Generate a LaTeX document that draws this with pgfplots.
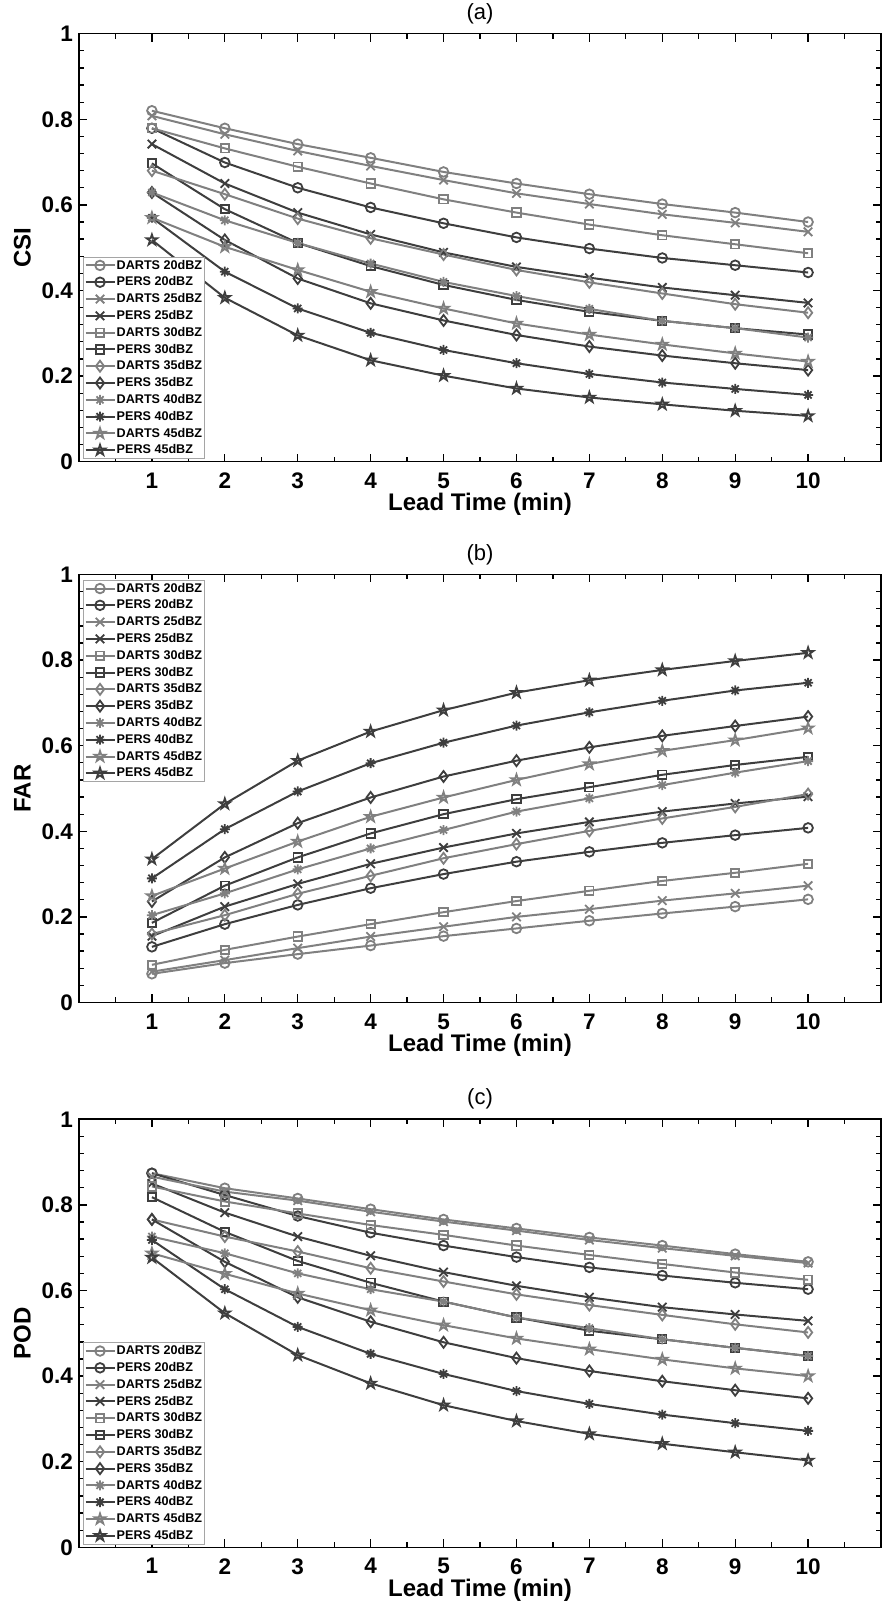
\documentclass[border=0pt]{standalone}
\usepackage{fontspec}
\setmainfont{Liberation Sans}
\usepackage{pgfplots}
\pgfplotsset{compat=1.18}
\definecolor{dcol}{RGB}{128,128,128}
\definecolor{pcol}{RGB}{62,62,62}
\definecolor{lgray}{RGB}{165,165,165}

\pgfdeclareplotmark{ast8}{%
  \pgfpathmoveto{\pgfqpoint{-\pgfplotmarksize}{0pt}}\pgfpathlineto{\pgfqpoint{\pgfplotmarksize}{0pt}}%
  \pgfpathmoveto{\pgfqpoint{0pt}{-\pgfplotmarksize}}\pgfpathlineto{\pgfqpoint{0pt}{\pgfplotmarksize}}%
  \pgfpathmoveto{\pgfqpoint{-.7071\pgfplotmarksize}{-.7071\pgfplotmarksize}}\pgfpathlineto{\pgfqpoint{.7071\pgfplotmarksize}{.7071\pgfplotmarksize}}%
  \pgfpathmoveto{\pgfqpoint{-.7071\pgfplotmarksize}{.7071\pgfplotmarksize}}\pgfpathlineto{\pgfqpoint{.7071\pgfplotmarksize}{-.7071\pgfplotmarksize}}%
  \pgfusepathqstroke}

\pgfdeclareplotmark{pentagram}{%
  \pgfpathmoveto{\pgfqpointpolar{90}{\pgfplotmarksize}}%
  \pgfpathlineto{\pgfqpointpolar{126}{0.382\pgfplotmarksize}}%
  \pgfpathlineto{\pgfqpointpolar{162}{\pgfplotmarksize}}%
  \pgfpathlineto{\pgfqpointpolar{198}{0.382\pgfplotmarksize}}%
  \pgfpathlineto{\pgfqpointpolar{234}{\pgfplotmarksize}}%
  \pgfpathlineto{\pgfqpointpolar{270}{0.382\pgfplotmarksize}}%
  \pgfpathlineto{\pgfqpointpolar{306}{\pgfplotmarksize}}%
  \pgfpathlineto{\pgfqpointpolar{342}{0.382\pgfplotmarksize}}%
  \pgfpathlineto{\pgfqpointpolar{18}{\pgfplotmarksize}}%
  \pgfpathlineto{\pgfqpointpolar{54}{0.382\pgfplotmarksize}}%
  \pgfpathclose\pgfusepathqstroke}

\pgfplotscreateplotcyclelist{mylist}{%
  {dcol,mark=o,mark size=4.8pt},
  {pcol,mark=o,mark size=4.8pt},
  {dcol,mark=x,mark size=6pt},
  {pcol,mark=x,mark size=6pt},
  {dcol,mark=square,mark size=4.2pt},
  {pcol,mark=square,mark size=4.2pt},
  {dcol,mark=diamond,mark size=5.5pt},
  {pcol,mark=diamond,mark size=5.5pt},
  {dcol,mark=ast8,mark size=5pt},
  {pcol,mark=ast8,mark size=5pt},
  {dcol,mark=pentagram,mark size=5.5pt},
  {pcol,mark=pentagram,mark size=5.5pt}}

\pgfplotsset{
  panel/.style={
    scale only axis, width=802pt, height=428pt,
    xmin=0, xmax=11, ymin=0, ymax=1,
    xtick={1,...,10}, minor xtick={0.5,1.5,...,10.5},
    ytick={0,0.2,0.4,0.6,0.8,1}, yticklabels={0,0.2,0.4,0.6,0.8,1},
    minor y tick num=4,
    tick align=inside, major tick length=8pt, minor tick length=5pt,
    every tick/.style={black, line width=1.3pt},
    axis line style={line width=1.6pt},
    /pgf/number format/assume math mode=true,
    tick label style={font=\bfseries\fontsize{22.5}{24}\selectfont},
    xticklabel style={inner sep=0pt, anchor=north, yshift=-11pt},
    yticklabel style={inner sep=0pt, anchor=east, xshift=-6pt},
    xlabel={Lead Time (min)},
    xlabel style={font=\bfseries\fontsize{24}{26}\selectfont, at={(axis description cs:0.5,-0.0736)}, anchor=north, inner sep=0pt},
    ylabel style={font=\bfseries\fontsize{24}{26}\selectfont, at={(axis description cs:-0.0705,0.5)}, anchor=center, inner sep=0pt},
    title style={font=\fontsize{22}{24}\selectfont, at={(axis description cs:0.5,1.0327)}, anchor=center, inner sep=0pt},
    cycle list name=mylist,
    every axis plot/.append style={line width=2pt, mark options={solid, line width=1.8pt}},
    legend cell align=left,
    legend image code/.code={\draw[mark repeat=2,mark phase=2,#1] plot coordinates {(0pt,0pt) (14.5pt,0pt) (29pt,0pt)};},
    legend style={draw=lgray, line width=1pt, fill=white, text=black,
      font=\bfseries\fontsize{12.6}{14}\selectfont, inner sep=1pt, row sep=2pt,
      nodes={inner sep=1.2pt, text height=9.8pt, text depth=2.6pt}},
  }}

\begin{document}
\begin{tikzpicture}[x=1pt,y=1pt]
\useasboundingbox (0,0) rectangle (882,1604);

% ---------------- (a) CSI ----------------
\begin{axis}[panel, at={(79pt,1142.3pt)}, anchor=south west, title={(a)}, ylabel={CSI},
  legend style={at={(axis description cs:0.005,0.006)}, anchor=south west}]
\addplot coordinates {(1,0.820)(2,0.779)(3,0.742)(4,0.710)(5,0.677)(6,0.650)(7,0.625)(8,0.602)(9,0.582)(10,0.560)};
\addplot coordinates {(1,0.779)(2,0.699)(3,0.640)(4,0.594)(5,0.557)(6,0.524)(7,0.498)(8,0.476)(9,0.459)(10,0.442)};
\addplot coordinates {(1,0.808)(2,0.765)(3,0.726)(4,0.691)(5,0.658)(6,0.627)(7,0.602)(8,0.578)(9,0.558)(10,0.537)};
\addplot coordinates {(1,0.742)(2,0.650)(3,0.582)(4,0.531)(5,0.489)(6,0.455)(7,0.430)(8,0.407)(9,0.389)(10,0.371)};
\addplot coordinates {(1,0.779)(2,0.732)(3,0.689)(4,0.650)(5,0.613)(6,0.582)(7,0.554)(8,0.529)(9,0.508)(10,0.487)};
\addplot coordinates {(1,0.697)(2,0.590)(3,0.511)(4,0.457)(5,0.413)(6,0.378)(7,0.350)(8,0.329)(9,0.312)(10,0.297)};
\addplot coordinates {(1,0.680)(2,0.625)(3,0.568)(4,0.522)(5,0.484)(6,0.448)(7,0.419)(8,0.393)(9,0.368)(10,0.348)};
\addplot coordinates {(1,0.629)(2,0.518)(3,0.428)(4,0.370)(5,0.330)(6,0.296)(7,0.269)(8,0.248)(9,0.230)(10,0.214)};
\addplot coordinates {(1,0.629)(2,0.564)(3,0.511)(4,0.463)(5,0.420)(6,0.387)(7,0.357)(8,0.329)(9,0.312)(10,0.290)};
\addplot coordinates {(1,0.570)(2,0.444)(3,0.358)(4,0.301)(5,0.261)(6,0.230)(7,0.205)(8,0.185)(9,0.170)(10,0.156)};
\addplot coordinates {(1,0.570)(2,0.502)(3,0.448)(4,0.397)(5,0.358)(6,0.323)(7,0.297)(8,0.274)(9,0.253)(10,0.234)};
\addplot coordinates {(1,0.518)(2,0.383)(3,0.295)(4,0.237)(5,0.201)(6,0.171)(7,0.150)(8,0.134)(9,0.119)(10,0.107)};
\legend{DARTS 20dBZ,PERS 20dBZ,DARTS 25dBZ,PERS 25dBZ,DARTS 30dBZ,PERS 30dBZ,DARTS 35dBZ,PERS 35dBZ,DARTS 40dBZ,PERS 40dBZ,DARTS 45dBZ,PERS 45dBZ}
\end{axis}

% ---------------- (b) FAR ----------------
\begin{axis}[panel, at={(79pt,601.5pt)}, anchor=south west, title={(b)}, ylabel={FAR},
  legend style={at={(axis description cs:0.005,0.988)}, anchor=north west}]
\addplot coordinates {(1,0.067)(2,0.092)(3,0.113)(4,0.133)(5,0.155)(6,0.173)(7,0.191)(8,0.208)(9,0.224)(10,0.241)};
\addplot coordinates {(1,0.130)(2,0.183)(3,0.228)(4,0.267)(5,0.300)(6,0.329)(7,0.352)(8,0.373)(9,0.391)(10,0.408)};
\addplot coordinates {(1,0.072)(2,0.099)(3,0.127)(4,0.154)(5,0.177)(6,0.200)(7,0.218)(8,0.238)(9,0.255)(10,0.273)};
\addplot coordinates {(1,0.155)(2,0.224)(3,0.277)(4,0.324)(5,0.362)(6,0.395)(7,0.422)(8,0.446)(9,0.465)(10,0.481)};
\addplot coordinates {(1,0.088)(2,0.123)(3,0.154)(4,0.183)(5,0.211)(6,0.237)(7,0.261)(8,0.284)(9,0.303)(10,0.324)};
\addplot coordinates {(1,0.186)(2,0.273)(3,0.339)(4,0.395)(5,0.440)(6,0.475)(7,0.503)(8,0.532)(9,0.555)(10,0.574)};
\addplot coordinates {(1,0.160)(2,0.204)(3,0.254)(4,0.296)(5,0.337)(6,0.370)(7,0.401)(8,0.430)(9,0.457)(10,0.487)};
\addplot coordinates {(1,0.236)(2,0.339)(3,0.419)(4,0.479)(5,0.528)(6,0.565)(7,0.596)(8,0.623)(9,0.646)(10,0.668)};
\addplot coordinates {(1,0.204)(2,0.255)(3,0.311)(4,0.360)(5,0.403)(6,0.446)(7,0.477)(8,0.508)(9,0.537)(10,0.564)};
\addplot coordinates {(1,0.290)(2,0.405)(3,0.493)(4,0.559)(5,0.607)(6,0.647)(7,0.678)(8,0.705)(9,0.729)(10,0.747)};
\addplot coordinates {(1,0.249)(2,0.313)(3,0.376)(4,0.434)(5,0.479)(6,0.520)(7,0.557)(8,0.588)(9,0.613)(10,0.641)};
\addplot coordinates {(1,0.335)(2,0.464)(3,0.565)(4,0.633)(5,0.683)(6,0.724)(7,0.753)(8,0.777)(9,0.798)(10,0.817)};
\legend{DARTS 20dBZ,PERS 20dBZ,DARTS 25dBZ,PERS 25dBZ,DARTS 30dBZ,PERS 30dBZ,DARTS 35dBZ,PERS 35dBZ,DARTS 40dBZ,PERS 40dBZ,DARTS 45dBZ,PERS 45dBZ}
\end{axis}

% ---------------- (c) POD ----------------
\begin{axis}[panel, at={(79pt,56.7pt)}, anchor=south west, title={(c)}, ylabel={POD},
  legend style={at={(axis description cs:0.005,0.006)}, anchor=south west}]
\addplot coordinates {(1,0.874)(2,0.839)(3,0.815)(4,0.790)(5,0.766)(6,0.745)(7,0.724)(8,0.705)(9,0.685)(10,0.667)};
\addplot coordinates {(1,0.874)(2,0.823)(3,0.774)(4,0.735)(5,0.705)(6,0.678)(7,0.654)(8,0.635)(9,0.618)(10,0.603)};
\addplot coordinates {(1,0.866)(2,0.831)(3,0.810)(4,0.784)(5,0.761)(6,0.740)(7,0.718)(8,0.699)(9,0.681)(10,0.664)};
\addplot coordinates {(1,0.850)(2,0.782)(3,0.726)(4,0.681)(5,0.643)(6,0.611)(7,0.584)(8,0.561)(9,0.544)(10,0.529)};
\addplot coordinates {(1,0.843)(2,0.808)(3,0.780)(4,0.753)(5,0.730)(6,0.705)(7,0.683)(8,0.662)(9,0.642)(10,0.625)};
\addplot coordinates {(1,0.818)(2,0.737)(3,0.669)(4,0.618)(5,0.574)(6,0.537)(7,0.506)(8,0.486)(9,0.466)(10,0.447)};
\addplot coordinates {(1,0.766)(2,0.726)(3,0.691)(4,0.652)(5,0.621)(6,0.591)(7,0.566)(8,0.543)(9,0.521)(10,0.502)};
\addplot coordinates {(1,0.766)(2,0.667)(3,0.584)(4,0.527)(5,0.479)(6,0.442)(7,0.412)(8,0.388)(9,0.367)(10,0.348)};
\addplot coordinates {(1,0.726)(2,0.687)(3,0.640)(4,0.603)(5,0.574)(6,0.537)(7,0.512)(8,0.486)(9,0.466)(10,0.447)};
\addplot coordinates {(1,0.718)(2,0.603)(3,0.515)(4,0.452)(5,0.405)(6,0.365)(7,0.335)(8,0.310)(9,0.290)(10,0.272)};
\addplot coordinates {(1,0.687)(2,0.639)(3,0.593)(4,0.554)(5,0.519)(6,0.488)(7,0.463)(8,0.439)(9,0.418)(10,0.400)};
\addplot coordinates {(1,0.677)(2,0.547)(3,0.449)(4,0.383)(5,0.332)(6,0.295)(7,0.265)(8,0.242)(9,0.222)(10,0.203)};
\legend{DARTS 20dBZ,PERS 20dBZ,DARTS 25dBZ,PERS 25dBZ,DARTS 30dBZ,PERS 30dBZ,DARTS 35dBZ,PERS 35dBZ,DARTS 40dBZ,PERS 40dBZ,DARTS 45dBZ,PERS 45dBZ}
\end{axis}
\end{tikzpicture}
\end{document}
